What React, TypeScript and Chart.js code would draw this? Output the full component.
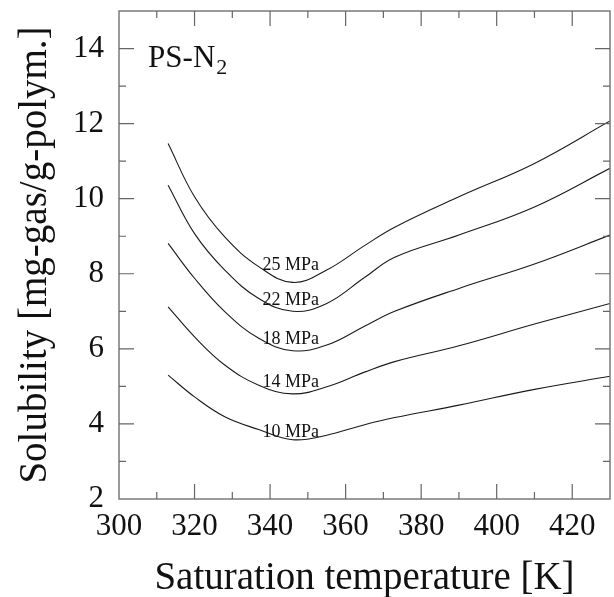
import React, { useEffect, useRef } from "react";
import { Chart, registerables } from "chart.js";
Chart.register(...registerables);

// Saturation temperature [K]
const temps = [313, 320, 328, 337, 346, 355, 365, 373, 390, 410, 430];
// Solubility [mg-gas/g-polym.] per pressure
const s25 = [11.47, 10.05, 8.98, 8.19, 7.77, 8.1, 8.75, 9.24, 10.05, 10.94, 12.07];
const s22 = [10.36, 9.07, 8.1, 7.34, 7.0, 7.21, 7.9, 8.44, 9.03, 9.78, 10.81];
const s18 = [8.81, 7.88, 6.99, 6.28, 5.95, 6.1, 6.6, 7.0, 7.61, 8.26, 9.03];
const s14 = [7.12, 6.32, 5.57, 5.03, 4.8, 4.99, 5.38, 5.66, 6.08, 6.66, 7.21];
const s10 = [5.3, 4.72, 4.19, 3.85, 3.58, 3.7, 3.98, 4.17, 4.5, 4.92, 5.27];
const seriesList = [s25, s22, s18, s14, s10];
const pressureLabels = ["25 MPa", "22 MPa", "18 MPa", "14 MPa", "10 MPa"];
const labelT = 345.5;
const labelValues = [8.23, 7.3, 6.26, 5.12, 3.79];
const xTickValues = [300, 320, 340, 360, 380, 400, 420];
const yTickValues = [2, 4, 6, 8, 10, 12, 14];
const xMinorValues = [310, 330, 350, 370, 390, 410];
const yMinorValues = [3, 5, 7, 9, 11, 13];
const systemName = "PS-N";
const systemSub = "2";
const systemPos = { t: 307.7, v: 13.52 };

const SERIF = "'Liberation Serif', 'Times New Roman', serif";

const decorPlugin = {
  id: "decor",
  afterDatasetsDraw(chart: any) {
    const { ctx, chartArea: a, scales } = chart;
    const xs = scales.x;
    const ys = scales.y;
    ctx.save();
    ctx.strokeStyle = "#7a7a7a";
    ctx.lineWidth = 1.5;
    ctx.strokeRect(a.left, a.top, a.right - a.left, a.bottom - a.top);
    ctx.lineWidth = 1.2;
    ctx.strokeStyle = "#666";
    const drawX = (vals: number[], len: number) => {
      vals.forEach((v) => {
        const px = xs.getPixelForValue(v);
        if (px <= a.left + 1 || px >= a.right - 1) return;
        ctx.beginPath();
        ctx.moveTo(px, a.bottom);
        ctx.lineTo(px, a.bottom - len);
        ctx.moveTo(px, a.top);
        ctx.lineTo(px, a.top + len);
        ctx.stroke();
      });
    };
    const drawY = (vals: number[], len: number) => {
      vals.forEach((v) => {
        const py = ys.getPixelForValue(v);
        if (py <= a.top + 1 || py >= a.bottom - 1) return;
        ctx.beginPath();
        ctx.moveTo(a.left, py);
        ctx.lineTo(a.left + len, py);
        ctx.moveTo(a.right, py);
        ctx.lineTo(a.right - len, py);
        ctx.stroke();
      });
    };
    drawX(xTickValues, 15);
    drawX(xMinorValues, 7);
    drawY(yTickValues, 15);
    drawY(yMinorValues, 7);
    ctx.fillStyle = "#111";
    ctx.font = `18px ${SERIF}`;
    ctx.textAlign = "center";
    ctx.textBaseline = "middle";
    pressureLabels.forEach((lab, i) => {
      ctx.fillText(lab, xs.getPixelForValue(labelT), ys.getPixelForValue(labelValues[i]));
    });
    const sx = xs.getPixelForValue(systemPos.t);
    const sy = ys.getPixelForValue(systemPos.v);
    ctx.textAlign = "left";
    ctx.textBaseline = "alphabetic";
    ctx.font = `31px ${SERIF}`;
    ctx.fillText(systemName, sx, sy);
    const w = ctx.measureText(systemName).width;
    ctx.font = `22px ${SERIF}`;
    ctx.fillText(systemSub, sx + w + 1, sy + 7.5);
    ctx.restore();
  },
};

export default function App() {
  const ref = useRef<HTMLCanvasElement | null>(null);
  useEffect(() => {
    if (!ref.current) return;
    const chart = new Chart(ref.current, {
      type: "line",
      data: {
        datasets: seriesList.map((s, i) => ({
          label: pressureLabels[i],
          data: temps.map((t, j) => ({ x: t, y: s[j] })),
          borderColor: "#1a1a1a",
          borderWidth: 1.1,
          pointRadius: 0,
          fill: false,
          tension: 0.4,
        })),
      },
      options: {
        animation: false,
        responsive: false,
        maintainAspectRatio: false,
        layout: { padding: { left: 0, right: 4, top: 11, bottom: 0 } },
        plugins: { legend: { display: false }, tooltip: { enabled: false } },
        scales: {
          x: {
            type: "linear",
            min: 300,
            max: 430,
            grid: { display: false, drawTicks: false },
            border: { display: false },
            afterBuildTicks: (s: any) => {
              s.ticks = xTickValues.map((v) => ({ value: v }));
            },
            afterFit: (s: any) => {
              s.height = 98;
              s.paddingLeft = 0;
              s.paddingRight = 0;
            },
            ticks: {
              color: "#111",
              padding: 9,
              maxRotation: 0,
              autoSkip: false,
              font: { family: SERIF, size: 31 },
            },
            title: {
              display: true,
              text: "Saturation temperature [K]",
              color: "#111",
              font: { family: SERIF, size: 39, lineHeight: 0.9 },
              padding: { top: 0, bottom: 1 },
            },
          },
          y: {
            type: "linear",
            min: 2,
            max: 15,
            grid: { display: false, drawTicks: false },
            border: { display: false },
            afterBuildTicks: (s: any) => {
              s.ticks = yTickValues.map((v) => ({ value: v }));
            },
            afterFit: (s: any) => {
              s.width = 119;
              s.paddingTop = 0;
              s.paddingBottom = 0;
            },
            ticks: {
              color: "#111",
              padding: 15,
              autoSkip: false,
              font: { family: SERIF, size: 31 },
            },
            title: {
              display: true,
              text: "Solubility [mg-gas/g-polym.]",
              color: "#111",
              font: { family: SERIF, size: 39, lineHeight: 0.9 },
              padding: { top: 18, bottom: 0 },
            },
          },
        },
      },
      plugins: [decorPlugin],
    });
    return () => chart.destroy();
  }, []);
  return (
    <div style={{ position: "absolute", left: 0, top: 0, width: 614, height: 597, background: "#fff" }}>
      <canvas ref={ref} width={614} height={597} style={{ width: 614, height: 597, display: "block" }} />
    </div>
  );
}
